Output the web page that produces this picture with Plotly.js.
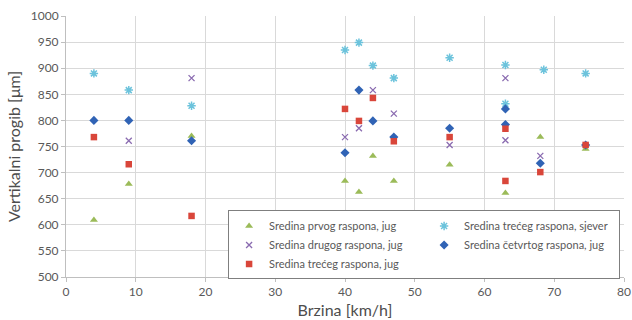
<!DOCTYPE html>
<html><head><meta charset="utf-8">
<script src="https://cdn.plot.ly/plotly-3.0.1.min.js"></script>
<style>html,body{margin:0;padding:0;background:#fff}#c{width:632px;height:320px}</style>
</head><body><div id="c"></div>
<script>
const names = ["Sredina prvog raspona, jug","Sredina trećeg raspona, sjever","Sredina drugog raspona, jug","Sredina četvrtog raspona, jug","Sredina trećeg raspona, jug"];
const xGreen  = [4, 9, 18, 40, 42, 44, 47, 55, 63, 68, 74.5];
const yGreen  = [609, 678, 770, 684, 663, 732, 684, 715, 661, 768, 745];
const xCyan   = [4, 9, 18, 40, 42, 44, 47, 55, 63, 63, 68.5, 74.5];
const yCyan   = [890, 858, 828, 935, 949, 905, 881, 920, 906, 832, 897, 890];
const xPurple = [9, 18, 40, 42, 44, 47, 55, 63, 63, 68];
const yPurple = [761, 881, 768, 785, 858, 813, 753, 881, 762, 732];
const xBlue   = [4, 9, 18, 40, 42, 44, 47, 55, 63, 63, 68, 74.5];
const yBlue   = [800, 800, 761, 738, 858, 799, 768, 785, 822, 792, 718, 753];
const xRed    = [4, 9, 18, 40, 42, 44, 47, 55, 63, 63, 68, 74.5];
const yRed    = [768, 716, 617, 822, 799, 843, 760, 768, 784, 684, 701, 753];

const FONT = "Lato, Open Sans, sans-serif";
const traces = [
  {x:xGreen, y:yGreen, name:names[0], type:"scatter", mode:"markers",
   marker:{symbol:"triangle-up", color:"#9bbb59", size:7}},
  {x:xCyan, y:yCyan, name:names[1], type:"scatter", mode:"markers",
   marker:{symbol:"asterisk-open", color:"#6cc3dc", size:7, line:{color:"#6cc3dc", width:1.5}}},
  {x:xPurple, y:yPurple, name:names[2], type:"scatter", mode:"markers",
   marker:{symbol:"x-thin-open", color:"#8a6bb0", size:6, line:{color:"#8a6bb0", width:1.3}}},
  {x:xBlue, y:yBlue, name:names[3], type:"scatter", mode:"markers",
   marker:{symbol:"diamond", color:"#3063b5", size:7}},
  {x:xRed, y:yRed, name:names[4], type:"scatter", mode:"markers",
   marker:{symbol:"square", color:"#d9463a", size:6.5}}
];
const layout = {
  width:632, height:320,
  margin:{l:66, r:8, t:16, b:43},
  paper_bgcolor:"#fff", plot_bgcolor:"#fff",
  font:{family:FONT, color:"#595959", size:12},
  showlegend:true,
  legend:{orientation:"h", x:0.993, y:0.255, xanchor:"right", yanchor:"top",
    bgcolor:"#fff", bordercolor:"#7f7f7f", borderwidth:1,
    entrywidth:150, entrywidthmode:"pixels",
    font:{family:FONT, size:11, color:"#595959"},
    tracegroupgap:0},
  xaxis:{range:[0,80], dtick:10, tick0:0, showgrid:true, gridcolor:"#d9d9d9", gridwidth:1,
    zeroline:false, showline:true, linecolor:"#bfbfbf", ticks:"outside", ticklen:4, tickcolor:"#bfbfbf",
    tickfont:{size:12, color:"#595959"},
    title:{text:"Brzina [km/h]", font:{size:16, color:"#4d4d4d"}, standoff:6}},
  yaxis:{range:[500,1000], dtick:50, tick0:500, showgrid:true, gridcolor:"#d9d9d9", gridwidth:1,
    zeroline:false, showline:true, linecolor:"#bfbfbf", ticks:"outside", ticklen:4, tickcolor:"#bfbfbf",
    tickfont:{size:12, color:"#595959"},
    title:{text:"Vertikalni progib [μm]", font:{size:16, color:"#4d4d4d"}, standoff:6}}
};
Plotly.newPlot("c", traces, layout, {displayModeBar:false, staticPlot:true});
</script></body></html>
